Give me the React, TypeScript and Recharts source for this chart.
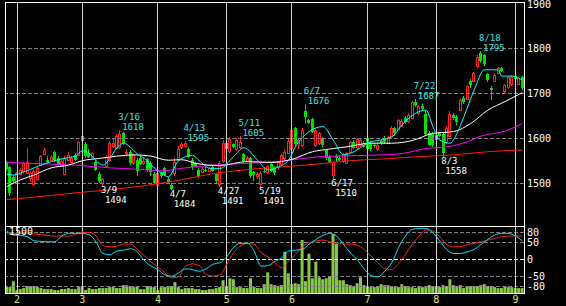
import React from 'react';
import { ComposedChart, Bar, Line, XAxis, YAxis, ReferenceLine, ReferenceDot } from 'recharts';

const FONT = '"DejaVu Sans Mono", monospace';
const RED = '#ff2020';
const GREEN = '#00e000';

// trading days shown on the chart, by month
const monthDays: [number, number[]][] = [
  [1, [27, 28, 31]],
  [2, [1, 2, 3, 4, 7, 8, 9, 10, 14, 15, 16, 17, 18, 21, 22, 23, 24, 25, 28]],
  [3, [1, 2, 3, 4, 7, 8, 9, 10, 11, 14, 15, 16, 17, 18, 22, 23, 24, 25, 28, 29, 30, 31]],
  [4, [1, 4, 5, 6, 7, 8, 11, 12, 13, 14, 15, 18, 19, 20, 21, 22, 25, 26, 27, 28]],
  [5, [2, 6, 9, 10, 11, 12, 13, 16, 17, 18, 19, 20, 23, 24, 25, 26, 27, 30, 31]],
  [6, [1, 2, 3, 6, 7, 8, 9, 10, 13, 14, 15, 16, 17, 20, 21, 22, 23, 24, 27, 28, 29, 30]],
  [7, [1, 4, 5, 6, 7, 8, 11, 12, 13, 14, 15, 19, 20, 21, 22, 25, 26, 27, 28, 29]],
  [8, [1, 2, 3, 4, 5, 8, 9, 10, 11, 12, 15, 16, 17, 18, 19, 22, 23, 24, 25, 26, 29, 30, 31]],
  [9, [1, 2, 5]],
];

const open = [
  1545, 1535, 1514, 1500, 1521, 1526, 1522, 1512, 1497, 1510, 1541, 1565, 1552, 1551, 1570, 1556, 1537, 1521, 1552, 1548, 1563, 1563,
  1604, 1588, 1568, 1558, 1548, 1520, 1500, 1538, 1552, 1582, 1578, 1580, 1612, 1566, 1570, 1545, 1552, 1555, 1544, 1553, 1545, 1520,
  1495, 1524, 1533, 1510, 1496, 1522, 1553, 1580, 1582, 1575, 1552, 1545, 1529, 1525, 1530, 1528, 1536, 1520, 1497, 1550,
  1590, 1572, 1588, 1575, 1580, 1565, 1550, 1555, 1525, 1515, 1497, 1528, 1524, 1542, 1535, 1535, 1542, 1555, 1568,
  1575, 1622, 1590, 1585, 1662, 1640, 1644, 1584, 1590, 1600, 1573, 1560, 1517, 1560, 1555, 1550, 1545, 1570, 1592, 1580, 1585, 1582,
  1600, 1590, 1584, 1576, 1594, 1600, 1590, 1606, 1622, 1620, 1628, 1646, 1638, 1646, 1682, 1656, 1672, 1655, 1612, 1610,
  1608, 1612, 1610, 1592, 1606, 1652, 1648, 1663, 1690, 1688, 1728, 1728, 1762, 1790, 1786, 1744, 1712, 1728, 1746, 1758, 1706, 1714, 1722, 1740, 1722, 1738,
];
const high = [
  1550, 1538, 1517, 1525, 1533, 1546, 1578, 1528, 1530, 1538, 1562, 1578, 1560, 1563, 1572, 1560, 1553, 1560, 1570, 1560, 1566, 1595,
  1608, 1592, 1575, 1570, 1552, 1525, 1512, 1562, 1593, 1600, 1610, 1618, 1615, 1575, 1574, 1566, 1555, 1560, 1555, 1556, 1550, 1525,
  1526, 1528, 1536, 1514, 1499, 1555, 1582, 1592, 1595, 1580, 1556, 1548, 1533, 1535, 1535, 1536, 1538, 1522, 1550, 1596,
  1595, 1602, 1590, 1600, 1605, 1568, 1560, 1558, 1528, 1524, 1526, 1535, 1540, 1545, 1538, 1550, 1565, 1575, 1598,
  1622, 1626, 1600, 1622, 1676, 1642, 1646, 1620, 1614, 1603, 1576, 1562, 1550, 1565, 1562, 1568, 1570, 1595, 1596, 1600, 1600, 1595,
  1612, 1594, 1590, 1590, 1598, 1604, 1606, 1628, 1626, 1643, 1642, 1650, 1656, 1683, 1687, 1674, 1676, 1660, 1616, 1614,
  1612, 1614, 1614, 1628, 1660, 1656, 1652, 1688, 1694, 1720, 1732, 1748, 1785, 1795, 1788, 1746, 1716, 1745, 1760, 1760, 1722, 1740, 1742, 1745, 1738, 1740,
];
const low = [
  1528, 1472, 1500, 1497, 1518, 1523, 1520, 1505, 1494, 1508, 1538, 1562, 1543, 1549, 1548, 1538, 1535, 1518, 1550, 1545, 1549, 1560,
  1590, 1556, 1555, 1555, 1526, 1500, 1494, 1535, 1548, 1578, 1575, 1576, 1585, 1560, 1540, 1540, 1515, 1540, 1540, 1525, 1515, 1497,
  1492, 1512, 1515, 1498, 1484, 1516, 1550, 1577, 1578, 1555, 1530, 1536, 1512, 1522, 1525, 1525, 1525, 1500, 1491, 1545,
  1570, 1568, 1578, 1572, 1575, 1548, 1545, 1512, 1505, 1510, 1491, 1522, 1520, 1525, 1518, 1530, 1540, 1552, 1565,
  1572, 1582, 1575, 1580, 1632, 1632, 1612, 1580, 1585, 1580, 1552, 1545, 1510, 1548, 1550, 1545, 1542, 1566, 1575, 1576, 1580, 1578,
  1570, 1572, 1578, 1572, 1586, 1588, 1588, 1604, 1606, 1618, 1626, 1632, 1634, 1642, 1670, 1652, 1660, 1605, 1582, 1580,
  1592, 1602, 1558, 1588, 1602, 1640, 1630, 1660, 1676, 1686, 1712, 1725, 1758, 1768, 1762, 1726, 1686, 1725, 1744, 1748, 1702, 1710, 1716, 1728, 1718, 1708,
];
const close = [
  1532, 1478, 1505, 1522, 1530, 1544, 1548, 1523, 1527, 1534, 1560, 1574, 1546, 1559, 1552, 1542, 1550, 1555, 1563, 1556, 1552, 1592,
  1594, 1560, 1558, 1566, 1530, 1505, 1508, 1558, 1590, 1590, 1605, 1610, 1590, 1570, 1545, 1562, 1528, 1543, 1550, 1530, 1525, 1500,
  1523, 1515, 1518, 1503, 1487, 1547, 1576, 1588, 1590, 1558, 1535, 1538, 1515, 1532, 1528, 1533, 1528, 1505, 1545, 1590,
  1575, 1598, 1580, 1596, 1592, 1550, 1556, 1515, 1518, 1520, 1523, 1525, 1538, 1528, 1522, 1548, 1563, 1570, 1594,
  1618, 1588, 1596, 1618, 1648, 1635, 1615, 1618, 1612, 1585, 1556, 1548, 1547, 1555, 1552, 1565, 1568, 1592, 1578, 1598, 1596, 1590,
  1575, 1576, 1582, 1586, 1590, 1592, 1602, 1624, 1612, 1640, 1638, 1636, 1652, 1680, 1675, 1672, 1665, 1610, 1586, 1584,
  1596, 1606, 1566, 1624, 1655, 1645, 1636, 1685, 1680, 1716, 1720, 1745, 1782, 1772, 1765, 1730, 1708, 1742, 1756, 1750, 1718, 1736, 1738, 1732, 1734, 1712,
];
const volume = [
  132, 132, 264, 66, 88, 110, 154, 154, 154, 132, 110, 88, 88, 88, 66, 66, 88, 88, 110, 88,
  88, 132, 154, 66, 110, 88, 88, 110, 110, 110, 132, 132, 110, 110, 176, 176, 154, 132, 154, 88,
  88, 154, 132, 132, 66, 132, 132, 132, 154, 242, 132, 88, 110, 110, 110, 88, 88, 66, 66, 88,
  88, 110, 132, 286, 154, 330, 308, 132, 132, 110, 110, 330, 132, 110, 110, 198, 462, 198, 176, 154,
  176, 924, 440, 198, 220, 198, 1188, 264, 880, 330, 704, 352, 308, 330, 374, 1320, 1100, 286, 286, 198,
  176, 154, 220, 352, 176, 154, 132, 132, 154, 198, 176, 176, 154, 132, 132, 198, 154, 132, 132, 110,
  154, 132, 132, 176, 154, 154, 132, 176, 154, 308, 176, 154, 176, 110, 154, 154, 154, 154, 176, 198,
  154, 154, 132, 110, 110, 154, 132, 132, 110, 110, 110,
];

// oscillators, every second trading day
const oscCyan = [
  86, 73, 72, 68, 56, 54, 53, 53, 70, 78, 78, 78, 74, 52, 18, 14, 25, 28, 32, 23,
  -3, -20, -30, -46, -50, -40, -28, -30, -35, -28, -14, -10, 8, 36, 48, 48, 25, -20, -18, -6,
  5, 25, 28, 30, 46, 60, 72, 78, 70, 45, 20, -1, -28, -48, -52, -35, -10, 35, 70, 90,
  93, 93, 80, 55, 30, 18, 18, 23, 30, 45, 60, 73, 78, 78, 70, 56,
];
const oscRed = [
  76, 77, 78, 78, 76, 74, 72, 70, 70, 70, 75, 81, 81, 70, 42, 38, 40, 46, 46, 30,
  12, -8, -22, -40, -55, -52, -20, -13, -18, -45, -49, -46, -15, 20, 40, 48, 45, 20, 8, -10,
  -25, -5, 15, 38, 50, 55, 58, 53, 48, 46, 46, 43, 30, 10, -10, -28, -30, -12, 15, 45,
  70, 88, 85, 68, 45, 38, 38, 45, 48, 53, 58, 63, 68, 70, 70, 70,
];

// moving averages read at [day index, price]
const maShort = [
  [0, 1520], [2, 1518], [4, 1522], [8, 1534], [13, 1548], [18, 1557], [20, 1560], [22, 1572], [24, 1566], [26, 1550],
  [28, 1540], [30, 1555], [32, 1578], [34, 1589], [36, 1580], [38, 1565], [40, 1555], [42, 1540], [45, 1522], [47, 1514],
  [50, 1550], [54, 1562], [56, 1550], [59, 1533], [62, 1532], [66, 1559], [69, 1579], [73, 1551], [76, 1529], [79, 1536],
  [82, 1551], [84, 1581], [88, 1615], [92, 1626], [95, 1596], [98, 1563], [101, 1570], [105, 1589], [112, 1603], [115, 1630],
  [119, 1656], [122, 1663], [124, 1626], [126, 1596], [129, 1589], [131, 1611], [133, 1648], [136, 1708], [139, 1753], [143, 1753],
  [144, 1739], [147, 1739], [150, 1730],
];
const ma25 = [
  [0, 1492], [4, 1507], [8, 1518], [13, 1534], [18, 1540], [22, 1550], [27, 1555], [32, 1560], [37, 1563], [42, 1560],
  [47, 1551], [51, 1552], [55, 1544], [62, 1539], [70, 1548], [77, 1546], [83, 1553], [89, 1570], [94, 1576], [99, 1581],
  [106, 1589], [112, 1589], [118, 1595], [124, 1611], [130, 1615], [135, 1633], [140, 1663], [145, 1682], [150, 1702],
];
const ma75 = [
  [0, 1546], [10, 1543], [20, 1540], [30, 1534], [40, 1530], [45, 1527], [50, 1532], [60, 1540], [70, 1544], [80, 1549],
  [90, 1558], [100, 1561], [106, 1562], [115, 1566], [122, 1577], [128, 1581], [134, 1592], [138, 1605], [145, 1616], [150, 1633],
];
const maLong = [
  [0, 1463], [10, 1470], [20, 1478], [30, 1485], [40, 1494], [50, 1506], [60, 1521], [70, 1530], [80, 1536], [90, 1542],
  [100, 1550], [110, 1554], [120, 1559], [130, 1563], [140, 1570], [150, 1574],
];

const highMarks: [string, number][] = [['3/16', 1618], ['4/13', 1595], ['5/11', 1605], ['6/7', 1676], ['7/22', 1687], ['8/18', 1795]];
const lowMarks: [string, number][] = [['3/9', 1494], ['4/7', 1484], ['4/27', 1491], ['5/19', 1491], ['6/17', 1510], ['8/3', 1558]];

const priceTicks = [1500, 1600, 1700, 1800, 1900];
const oscTicks = [80, 50, 0, -50, -80];

const dates = monthDays.flatMap(([m, days]) => days.map((d) => `${m}/${d}`));
const monthStarts = monthDays.slice(1).map(([m, days]) => `${m}/${days[0]}`);

const toMap = (pairs: number[][]) => new Map(pairs.map(([i, v]) => [i, v]));
const shortMap = toMap(maShort);
const m25Map = toMap(ma25);
const m75Map = toMap(ma75);
const longMap = toMap(maLong);

const data = dates.map((date, i) => ({
  date,
  range: [low[i], high[i]],
  open: open[i],
  high: high[i],
  low: low[i],
  close: close[i],
  vol: volume[i],
  oscC: i % 2 === 0 ? oscCyan[i / 2] : null,
  oscR: i % 2 === 0 ? oscRed[i / 2] : null,
  maS: shortMap.get(i) ?? null,
  ma25: m25Map.get(i) ?? null,
  ma75: m75Map.get(i) ?? null,
  maL: longMap.get(i) ?? null,
}));

function Candle(props: any) {
  const { x, y, width, height, payload } = props;
  if (!payload || x == null) return null;
  const top = Math.min(y, y + height);
  const h = Math.abs(height);
  const { open: o, close: c, high: hi, low: lo } = payload;
  const span = hi - lo || 1;
  const py = (v: number) => top + ((hi - v) / span) * h;
  const cx = Math.floor(x + width / 2) + 0.5;
  const up = c >= o;
  const col = up ? RED : GREEN;
  const bTop = Math.round(py(Math.max(o, c)));
  const bH = Math.max(Math.round(py(Math.min(o, c))) - bTop, 1);
  return (
    <g shapeRendering="crispEdges">
      <line x1={cx} x2={cx} y1={Math.round(top)} y2={Math.round(top + h)} stroke={col} strokeWidth={1} />
      {up ? (
        <rect x={cx - 1} y={bTop + 0.5} width={2} height={bH} fill="#000" stroke={col} strokeWidth={1} />
      ) : (
        <rect x={cx - 1.5} y={bTop} width={3} height={bH} fill={col} />
      )}
    </g>
  );
}

const highLabel = (d: string, v: number) => (p: any) => (
  <g fontFamily={FONT} fontSize={9} fill="#40e0e0">
    <text x={p.cx - 2} y={p.cy - 10}>{d}</text>
    <text x={p.cx + 2} y={p.cy}>{v}</text>
  </g>
);
const lowLabel = (d: string, v: number) => (p: any) => (
  <g fontFamily={FONT} fontSize={9} fill="#ffffff">
    <text x={p.cx - 2} y={p.cy + 7}>{d}</text>
    <text x={p.cx + 2} y={p.cy + 17}>{v}</text>
  </g>
);

const tickStyle = { fill: '#ffffff', fontSize: 10, fontFamily: FONT };

export default function App() {
  return (
    <div style={{ position: 'absolute', left: 0, top: 0, width: 566, height: 306, background: '#000', overflow: 'hidden' }}>
      <div style={{ position: 'absolute', left: 0, top: 0 }}>
        <ComposedChart width={566} height={226} data={data} margin={{ top: 2, right: 0, bottom: 0, left: 5 }} barCategoryGap={0}>
          <XAxis dataKey="date" hide />
          <YAxis
            yAxisId="p"
            orientation="right"
            domain={[1404, 1904.5]}
            allowDataOverflow
            ticks={priceTicks}
            interval={0}
            width={42}
            tickLine={false}
            axisLine={false}
            tickSize={0}
            tickMargin={3}
            tick={tickStyle}
          />
          {priceTicks.slice(0, 4).map((t) => (
            <ReferenceLine key={t} yAxisId="p" y={t} stroke="#808080" strokeDasharray="4 2" shapeRendering="crispEdges" />
          ))}
          {monthStarts.map((d) => (
            <ReferenceLine key={d} yAxisId="p" x={d} stroke="#d0d0d0" shapeRendering="crispEdges" />
          ))}
          <Bar yAxisId="p" dataKey="range" shape={Candle} isAnimationActive={false} />
          <Line yAxisId="p" dataKey="maL" stroke="#ff2000" dot={false} connectNulls type="monotone" isAnimationActive={false} />
          <Line yAxisId="p" dataKey="ma75" stroke="#ff00ff" dot={false} connectNulls type="monotone" isAnimationActive={false} />
          <Line yAxisId="p" dataKey="ma25" stroke="#ffffff" dot={false} connectNulls type="monotone" isAnimationActive={false} />
          <Line yAxisId="p" dataKey="maS" stroke="#00ffff" dot={false} connectNulls type="monotone" isAnimationActive={false} />
          {highMarks.map(([d, v]) => (
            <ReferenceDot key={d} yAxisId="p" x={d} y={v} r={0} shape={highLabel(d, v)} />
          ))}
          {lowMarks.map(([d, v]) => (
            <ReferenceDot key={d} yAxisId="p" x={d} y={v} r={0} shape={lowLabel(d, v)} />
          ))}
        </ComposedChart>
      </div>
      <div style={{ position: 'absolute', left: 0, top: 226 }}>
        <ComposedChart width={566} height={80} data={data} margin={{ top: 0, right: 0, bottom: 0, left: 5 }}>
          <XAxis
            dataKey="date"
            ticks={monthStarts}
            interval={0}
            tickFormatter={(d: string) => d.split('/')[0]}
            height={13}
            tickLine={false}
            axisLine={false}
            tickSize={0}
            tickMargin={3}
            tick={{ fill: '#e0e070', fontSize: 10, fontFamily: FONT }}
          />
          <YAxis
            yAxisId="o"
            orientation="right"
            domain={[-100, 100]}
            allowDataOverflow
            ticks={oscTicks}
            interval={0}
            width={42}
            tickLine={false}
            axisLine={false}
            tickSize={0}
            tickMargin={3}
            tick={tickStyle}
          />
          <YAxis yAxisId="v" hide domain={[0, 1500]} allowDataOverflow />
          {oscTicks.map((t) => (
            <ReferenceLine key={t} yAxisId="o" y={t} stroke={t === 0 ? '#ffffff' : '#808080'} strokeDasharray="4 2" shapeRendering="crispEdges" />
          ))}
          {monthStarts.map((d) => (
            <ReferenceLine key={d} yAxisId="o" x={d} stroke="#d0d0d0" shapeRendering="crispEdges" />
          ))}
          <Bar yAxisId="v" dataKey="vol" fill="#88c848" barSize={3} isAnimationActive={false} />
          <Line yAxisId="o" dataKey="oscR" stroke={RED} dot={false} connectNulls type="monotone" isAnimationActive={false} />
          <Line yAxisId="o" dataKey="oscC" stroke="#00e0ff" dot={false} connectNulls type="monotone" isAnimationActive={false} />
        </ComposedChart>
      </div>
      <div style={{ position: 'absolute', left: 9, top: 227, color: '#fff', fontFamily: FONT, fontSize: 10, lineHeight: '10px' }}>1500</div>
      <div style={{ position: 'absolute', left: 5, top: 2, width: 520, height: 292, border: '1px solid #fff', boxSizing: 'border-box', pointerEvents: 'none' }} />
      <div style={{ position: 'absolute', left: 5, top: 226, width: 520, height: 1, background: '#fff' }} />
    </div>
  );
}
